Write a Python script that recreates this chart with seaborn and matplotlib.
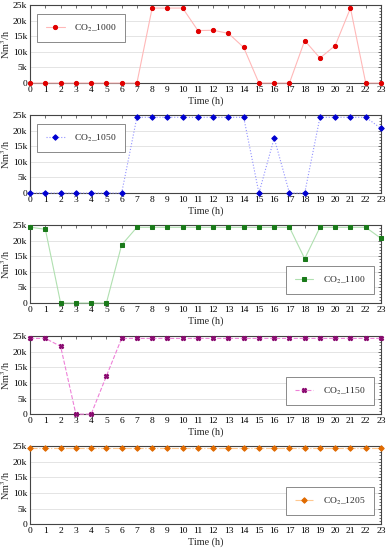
import matplotlib
matplotlib.use("Agg")
import matplotlib.pyplot as plt
import seaborn as sns
import numpy as np
from matplotlib.ticker import MultipleLocator, FuncFormatter

hours = list(range(24))
co2_1000 = [0, 0, 0, 0, 0, 0, 0, 0, 24000, 24000, 24000, 16800, 16900, 15900, 11400,
            0, 0, 0, 13600, 8000, 12000, 24000, 0, 0]
co2_1050 = [0, 0, 0, 0, 0, 0, 0, 24250, 24250, 24250, 24250, 24250, 24250, 24250, 24250,
            0, 17600, 0, 0, 24250, 24250, 24250, 24250, 20700]
co2_1100 = [24300, 23600, 0, 0, 0, 0, 18600, 24250, 24250, 24250, 24250, 24250, 24250, 24250,
            24250, 24250, 24250, 24250, 14200, 24250, 24250, 24250, 24250, 20700]
co2_1150 = [24250, 24250, 21700, 0, 0, 12200, 24250, 24250, 24250, 24250, 24250, 24250, 24250,
            24250, 24250, 24250, 24250, 24250, 24250, 24250, 24250, 24250, 24250, 24250]
co2_1205 = [24250] * 24
labels = ["CO$_2$_1000", "CO$_2$_1050", "CO$_2$_1100", "CO$_2$_1150", "CO$_2$_1205"]
series = [co2_1000, co2_1050, co2_1100, co2_1150, co2_1205]

sns.set_theme(style="white")
plt.rcParams["font.family"] = ["Liberation Serif", "DejaVu Serif"]
plt.rcParams["mathtext.fontset"] = "stix"

styles = [
    dict(line="#ffb8b8", mk="#e00000", marker="o", ls="-", ms=3.0),
    dict(line="#9090ff", mk="#0000d0", marker="D", ls=":", ms=2.8),
    dict(line="#b0e0b0", mk="#1a7a1a", marker="s", ls="-", ms=2.9),
    dict(line="#ee80d8", mk="#8a0a70", marker="X", ls="--", ms=3.2),
    dict(line="#ffc890", mk="#e06a00", marker="D", ls="-.", ms=2.8),
]
legend_locs = ["upper left", "upper left", "lower right", "lower right", "lower right"]
legend_anchor = [(0.015, 0.91), (0.015, 0.91), (0.985, 0.09), (0.985, 0.09), (0.985, 0.09)]

fig = plt.figure(figsize=(3.86, 5.5), dpi=100)
bottoms = [0.849, 0.649, 0.449, 0.247, 0.047]
fs = 6.8

for i, (vals, lab, st, b) in enumerate(zip(series, labels, styles, bottoms)):
    ax = fig.add_axes([0.078, b, 0.909, 0.142])
    sns.lineplot(x=hours, y=vals, ax=ax, color=st["line"], linestyle=st["ls"], linewidth=0.8,
                 marker=st["marker"], markersize=st["ms"], markerfacecolor=st["mk"],
                 markeredgecolor=st["mk"], label=lab, clip_on=False, zorder=3)
    ax.set_xlim(0, 23)
    ax.set_ylim(0, 25000)
    ax.xaxis.set_major_locator(MultipleLocator(1))
    ax.yaxis.set_major_locator(MultipleLocator(5000))
    ax.yaxis.set_minor_locator(MultipleLocator(1000))
    ax.yaxis.set_major_formatter(FuncFormatter(lambda v, p: "0" if v == 0 else f"{int(v/1000)}k"))
    ax.grid(axis="y", color="#e4e4e4", linewidth=0.7)
    ax.tick_params(axis="both", which="both", direction="in", top=True, right=True,
                   labelsize=fs, length=2.5, width=0.5, pad=2, colors="#333333")
    ax.tick_params(axis="y", which="minor", length=1.5, left=False)
    for lbl in ax.get_xticklabels() + ax.get_yticklabels():
        lbl.set_color("black")
    for s in ax.spines.values():
        s.set_color("#444444")
        s.set_linewidth(0.8)
    ax.set_xlabel("Time (h)", fontsize=fs + 0.5, labelpad=2)
    ax.set_ylabel("Nm$^3$/h", fontsize=fs + 0.5, labelpad=1)
    leg = ax.legend(loc=legend_locs[i], bbox_to_anchor=legend_anchor[i], fontsize=fs,
                    frameon=True, fancybox=False, edgecolor="#777777", framealpha=1,
                    handlelength=2.0, borderpad=0.9, handletextpad=1.0, borderaxespad=0.2)
    leg.get_frame().set_linewidth(0.6)

fig.savefig("out.png", dpi=100)
